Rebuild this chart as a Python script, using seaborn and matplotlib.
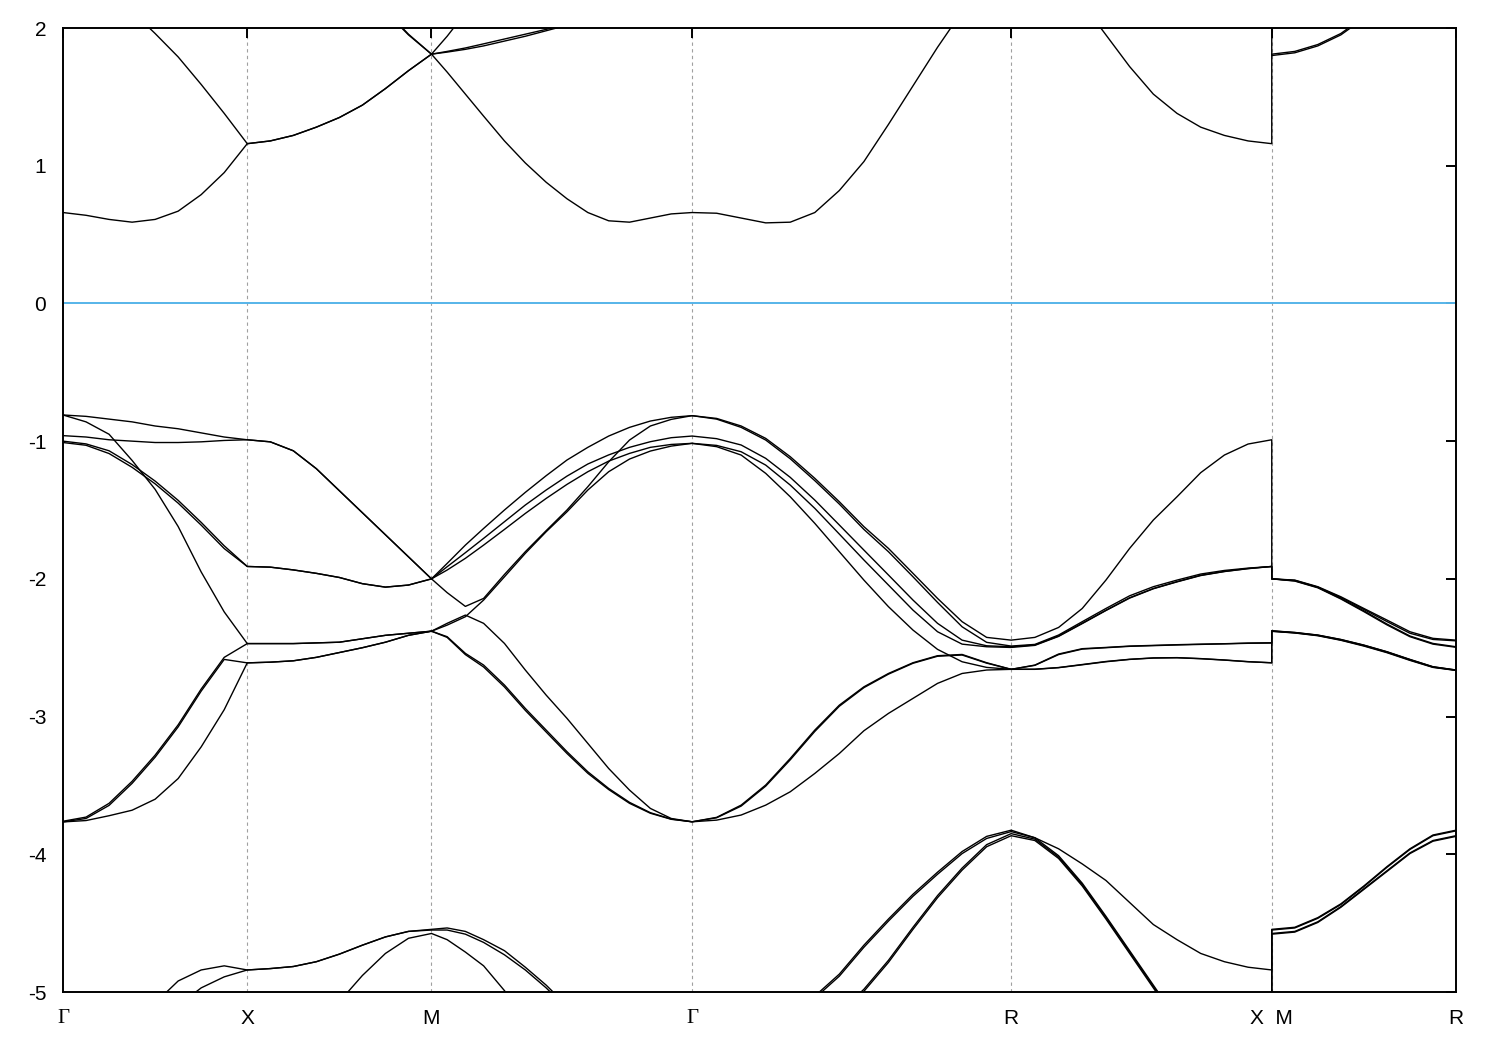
import matplotlib
matplotlib.use("Agg")
import matplotlib.pyplot as plt
import numpy as np
import pandas as pd
import seaborn as sns

nan = np.nan

# high-symmetry points along the path, in units of 2*pi/a
K_POINTS = [0.0, 0.5, 1.0, 1.7071, 2.5731, 3.2802, 3.7802]
K_LABELS = ["Γ", "X", "M", "Γ", "R", "X  M", "R"]
Y_TICKS = [2, 1, 0, -1, -2, -3, -4, -5]
Y_LABELS = ["2", "1", "0", "-1", "-2", "-3", "-4", "-5"]

BANDS = ["u1", "u2", "u3", "u4", "a", "b", "c", "d1", "d2",
         "e1", "e2", "f", "g1", "g2", "h", "i"]

# sampling positions inside each segment (fraction of the segment length)
T_GX = [0, 0.125, 0.25, 0.375, 0.5, 0.625, 0.75, 0.875, 1.0]
T_XM = [0, 0.125, 0.25, 0.375, 0.5, 0.625, 0.75, 0.875, 1.0]
T_MG = [0, 0.06, 0.13, 0.2, 0.28, 0.36, 0.44, 0.52, 0.6, 0.68, 0.76, 0.84, 0.92, 1.0]
T_GR = [0, 0.0769, 0.1538, 0.2308, 0.3077, 0.3846, 0.4615, 0.5385, 0.6154,
        0.6923, 0.7692, 0.8462, 0.9231, 1.0]
T_RX = [0, 0.0909, 0.1818, 0.2727, 0.3636, 0.4545, 0.5455, 0.6364, 0.7273,
        0.8182, 0.9091, 1.0]
T_MR = [0, 0.125, 0.25, 0.375, 0.5, 0.625, 0.75, 0.875, 1.0]

GAMMA_X = {
    "u1": [0.66, 0.64, 0.61, 0.59, 0.61, 0.67, 0.79, 0.95, 1.16],
    "u2": [2.65, 2.50, 2.32, 2.12, 1.96, 1.79, 1.59, 1.38, 1.16],
    "u3": [nan] * 9,
    "u4": [nan] * 9,
    "a": [-0.81, -0.82, -0.84, -0.86, -0.89, -0.91, -0.94, -0.97, -0.99],
    "b": [-0.81, -0.86, -0.95, -1.14, -1.35, -1.62, -1.95, -2.24, -2.47],
    "c": [-0.96, -0.97, -0.99, -1.00, -1.01, -1.01, -1.005, -0.995, -0.99],
    "d1": [-1.00, -1.02, -1.07, -1.17, -1.29, -1.43, -1.59, -1.76, -1.91],
    "d2": [-1.01, -1.03, -1.09, -1.19, -1.31, -1.45, -1.61, -1.78, -1.91],
    "e1": [-3.76, -3.73, -3.63, -3.47, -3.28, -3.06, -2.80, -2.57, -2.47],
    "e2": [-3.765, -3.74, -3.645, -3.485, -3.295, -3.075, -2.815, -2.585, -2.61],
    "f": [-3.765, -3.755, -3.72, -3.68, -3.60, -3.45, -3.22, -2.95, -2.61],
    "g1": [-5.9, -5.7, -5.45, -5.25, -5.08, -4.92, -4.84, -4.81, -4.84],
    "g2": [-6.2, -6.0, -5.75, -5.5, -5.28, -5.1, -4.97, -4.89, -4.84],
    "h": [nan] * 9,
    "i": [nan] * 9,
}

X_M = {
    "u1": [1.16, 1.18, 1.22, 1.28, 1.35, 1.44, 1.56, 1.69, 1.81],
    "u2": [1.16, 1.18, 1.22, 1.28, 1.35, 1.44, 1.56, 1.69, 1.81],
    "u3": [2.9, 2.85, 2.75, 2.6, 2.45, 2.3, 2.12, 1.95, 1.81],
    "u4": [3.0, 2.93, 2.82, 2.66, 2.5, 2.33, 2.13, 1.955, 1.81],
    "a": [-0.99, -1.005, -1.07, -1.20, -1.36, -1.52, -1.68, -1.84, -2.0],
    "b": [-2.47, -2.47, -2.47, -2.465, -2.46, -2.435, -2.41, -2.395, -2.38],
    "c": [-0.99, -1.005, -1.07, -1.20, -1.36, -1.52, -1.68, -1.84, -2.0],
    "d1": [-1.91, -1.915, -1.935, -1.96, -1.99, -2.035, -2.06, -2.045, -2.0],
    "d2": [-1.91, -1.915, -1.935, -1.96, -1.99, -2.035, -2.06, -2.045, -2.0],
    "e1": [-2.47, -2.47, -2.47, -2.465, -2.46, -2.435, -2.41, -2.395, -2.38],
    "e2": [-2.61, -2.605, -2.595, -2.57, -2.535, -2.50, -2.46, -2.41, -2.38],
    "f": [-2.61, -2.605, -2.595, -2.57, -2.535, -2.50, -2.46, -2.41, -2.38],
    "g1": [-4.84, -4.83, -4.815, -4.78, -4.725, -4.66, -4.60, -4.56, -4.545],
    "g2": [-4.84, -4.83, -4.815, -4.78, -4.725, -4.66, -4.60, -4.56, -4.55],
    "h": [-5.9, -5.7, -5.45, -5.25, -5.07, -4.88, -4.72, -4.61, -4.575],
    "i": [nan] * 9,
}

M_GAMMA = {
    "u1": [1.81, 1.68, 1.52, 1.36, 1.18, 1.02, 0.88, 0.76, 0.66, 0.60, 0.59, 0.62, 0.65, 0.66],
    "u2": [1.81, 1.94, 2.11, 2.28] + [nan] * 10,
    "u3": [1.81, 1.83, 1.855, 1.885, 1.92, 1.955, 1.99, 2.03, 2.08] + [nan] * 5,
    "u4": [1.81, 1.825, 1.845, 1.87, 1.905, 1.94, 1.98, 2.02, 2.07] + [nan] * 5,
    "a": [-2.0, -2.10, -2.20, -2.142, -1.968, -1.803, -1.65, -1.50, -1.331, -1.15,
          -0.992, -0.89, -0.842, -0.815],
    "b": [-2.38, -2.336, -2.275, -2.154, -1.985, -1.815, -1.658, -1.513, -1.355, -1.222,
          -1.13, -1.072, -1.036, -1.016],
    "c": [-2.0, -1.888, -1.755, -1.634, -1.50, -1.372, -1.251, -1.137, -1.045, -0.963,
          -0.90, -0.854, -0.827, -0.815],
    "d1": [-2.0, -1.912, -1.81, -1.706, -1.585, -1.464, -1.355, -1.254, -1.166, -1.10,
           -1.045, -1.004, -0.975, -0.963],
    "d2": [-2.0, -1.936, -1.851, -1.755, -1.641, -1.525, -1.416, -1.314, -1.222, -1.145,
           -1.089, -1.045, -1.024, -1.016],
    "e1": [-2.38, -2.323, -2.263, -2.323, -2.469, -2.662, -2.844, -3.013, -3.195, -3.377,
           -3.534, -3.667, -3.74, -3.764],
    "e2": [-2.38, -2.42, -2.541, -2.626, -2.771, -2.941, -3.098, -3.255, -3.401, -3.522,
           -3.623, -3.698, -3.744, -3.764],
    "f": [-2.38, -2.425, -2.55, -2.64, -2.785, -2.955, -3.112, -3.268, -3.412, -3.53,
          -3.63, -3.702, -3.746, -3.764],
    "g1": [-4.545, -4.535, -4.56, -4.62, -4.70, -4.82, -4.95, -5.1, -5.3] + [nan] * 5,
    "g2": [-4.55, -4.55, -4.58, -4.64, -4.73, -4.84, -4.97, -5.12, -5.3] + [nan] * 5,
    "h": [-4.575, -4.62, -4.71, -4.81, -4.99, -5.2] + [nan] * 8,
    "i": [nan] * 14,
}

GAMMA_R = {
    "u1": [0.66, 0.655, 0.62, 0.585, 0.59, 0.66, 0.82, 1.03, 1.30, 1.58, 1.86, 2.12, 2.45, 2.8],
    "u2": [nan] * 14,
    "u3": [nan] * 14,
    "u4": [nan] * 14,
    "a": [-0.815, -0.84, -0.90, -0.992, -1.128, -1.287, -1.457, -1.641, -1.803, -1.985,
          -2.171, -2.348, -2.461, -2.488],
    "b": [-1.016, -1.04, -1.101, -1.234, -1.404, -1.597, -1.803, -2.009, -2.202, -2.372,
          -2.512, -2.602, -2.643, -2.657],
    "c": [-0.815, -0.835, -0.89, -0.98, -1.113, -1.27, -1.44, -1.621, -1.779, -1.96,
          -2.142, -2.311, -2.425, -2.445],
    "d1": [-0.963, -0.982, -1.028, -1.125, -1.263, -1.428, -1.609, -1.791, -1.972, -2.154,
           -2.323, -2.445, -2.486, -2.493],
    "d2": [-1.016, -1.031, -1.077, -1.174, -1.319, -1.488, -1.675, -1.863, -2.045, -2.227,
           -2.384, -2.474, -2.493, -2.498],
    "e1": [-3.764, -3.752, -3.715, -3.643, -3.546, -3.413, -3.268, -3.103, -2.977, -2.868,
           -2.759, -2.687, -2.662, -2.657],
    "e2": [-3.764, -3.732, -3.643, -3.497, -3.304, -3.098, -2.917, -2.784, -2.687, -2.609,
           -2.558, -2.549, -2.609, -2.657],
    "f": [-3.764, -3.735, -3.65, -3.505, -3.314, -3.108, -2.925, -2.79, -2.692, -2.613,
          -2.562, -2.553, -2.612, -2.657],
    "g1": [nan, nan, nan, -5.45, -5.23, -5.03, -4.87, -4.66, -4.47, -4.29, -4.13, -3.98,
           -3.87, -3.825],
    "g2": [nan, nan, nan, -5.46, -5.245, -5.045, -4.885, -4.675, -4.485, -4.305, -4.145,
           -3.995, -3.885, -3.835],
    "h": [nan] * 5 + [-5.32, -5.15, -4.98, -4.77, -4.53, -4.30, -4.10, -3.93, -3.85],
    "i": [nan] * 5 + [-5.34, -5.165, -4.995, -4.785, -4.545, -4.315, -4.115, -3.945, -3.865],
}

R_X = {
    "u1": [2.8, 2.65, 2.42, 2.18, 1.95, 1.72, 1.52, 1.38, 1.28, 1.22, 1.18, 1.16],
    "u2": [nan] * 11 + [2.9],
    "u3": [nan] * 12,
    "u4": [nan] * 12,
    "a": [-2.488, -2.476, -2.408, -2.311, -2.215, -2.123, -2.057, -2.009, -1.965, -1.939,
          -1.922, -1.91],
    "b": [-2.657, -2.626, -2.546, -2.507, -2.498, -2.488, -2.483, -2.478, -2.474, -2.471,
          -2.466, -2.464],
    "c": [-2.445, -2.425, -2.353, -2.215, -2.009, -1.779, -1.573, -1.404, -1.229, -1.101,
          -1.021, -0.99],
    "d1": [-2.493, -2.48, -2.415, -2.322, -2.228, -2.137, -2.07, -2.02, -1.974, -1.946,
           -1.925, -1.91],
    "d2": [-2.498, -2.483, -2.418, -2.325, -2.23, -2.14, -2.072, -2.022, -1.976, -1.947,
           -1.926, -1.91],
    "e1": [-2.657, -2.657, -2.645, -2.624, -2.602, -2.585, -2.575, -2.573, -2.58, -2.59,
           -2.602, -2.609],
    "e2": [-2.657, -2.628, -2.55, -2.51, -2.50, -2.49, -2.485, -2.48, -2.476, -2.472,
           -2.468, -2.466],
    "f": [-2.657, -2.656, -2.644, -2.622, -2.6, -2.584, -2.574, -2.572, -2.579, -2.589,
          -2.601, -2.61],
    "g1": [-3.825, -3.88, -3.96, -4.07, -4.19, -4.35, -4.51, -4.62, -4.72, -4.78, -4.82, -4.84],
    "g2": [-3.835, -3.88, -4.01, -4.21, -4.45, -4.70, -4.95, -5.2, nan, nan, nan, -5.9],
    "h": [-3.85, -3.89, -4.02, -4.22, -4.46, -4.71, -4.96, -5.21, nan, nan, nan, -5.9],
    "i": [-3.865, -3.90, -4.03, -4.23, -4.47, -4.72, -4.97, -5.22, nan, nan, nan, -5.9],
}

M_R = {
    "u1": [1.81, 1.83, 1.88, 1.96, 2.08, 2.2, nan, nan, nan],
    "u2": [1.80, 1.82, 1.87, 1.95, 2.07, 2.19, nan, nan, nan],
    "u3": [nan] * 9,
    "u4": [nan] * 9,
    "a": [-2.0, -2.011, -2.06, -2.135, -2.222, -2.31, -2.395, -2.44, -2.45],
    "b": [-2.377, -2.389, -2.408, -2.44, -2.481, -2.529, -2.585, -2.638, -2.662],
    "c": [-2.0, -2.009, -2.057, -2.13, -2.215, -2.299, -2.384, -2.432, -2.445],
    "d1": [-2.0, -2.014, -2.062, -2.142, -2.232, -2.328, -2.415, -2.469, -2.493],
    "d2": [-2.0, -2.016, -2.065, -2.146, -2.238, -2.334, -2.42, -2.474, -2.497],
    "e1": [-2.38, -2.392, -2.411, -2.444, -2.485, -2.533, -2.589, -2.641, -2.664],
    "e2": [-2.378, -2.39, -2.409, -2.441, -2.482, -2.53, -2.586, -2.639, -2.662],
    "f": [-2.381, -2.393, -2.413, -2.446, -2.488, -2.536, -2.592, -2.643, -2.665],
    "g1": [-4.545, -4.53, -4.46, -4.36, -4.23, -4.09, -3.96, -3.86, -3.825],
    "g2": [-4.55, -4.535, -4.465, -4.365, -4.235, -4.095, -3.965, -3.865, -3.83],
    "h": [-4.575, -4.56, -4.49, -4.38, -4.25, -4.12, -3.99, -3.90, -3.865],
    "i": [-4.58, -4.565, -4.495, -4.385, -4.255, -4.125, -3.995, -3.905, -3.87],
}

# (start point index, end point index, sample fractions, energies)
SEGMENTS = [
    (0, 1, T_GX, GAMMA_X),
    (1, 2, T_XM, X_M),
    (2, 3, T_MG, M_GAMMA),
    (3, 4, T_GR, GAMMA_R),
    (4, 5, T_RX, R_X),
    (5, 6, T_MR, M_R),
]


def build_frame():
    rows = []
    for band in BANDS:
        for start, end, fracs, values in SEGMENTS:
            k0, k1 = K_POINTS[start], K_POINTS[end]
            for t, e in zip(fracs, values[band]):
                rows.append({"k": k0 + t * (k1 - k0), "E": e, "band": band})
    return pd.DataFrame(rows)


sns.set_style("white")
plt.rcParams["font.family"] = ["Liberation Sans", "DejaVu Sans"]

df = build_frame()

fig, ax = plt.subplots(figsize=(15, 10.5), dpi=100)
ax.set_position([63 / 1500, 1 - 992 / 1050, 1393 / 1500, 964 / 1050])

for k in K_POINTS[1:-1]:
    ax.axvline(k, color="#a0a0a0", linewidth=0.8, linestyle=(0, (3, 3)), zorder=0)
ax.axhline(0, color="#56b4e9", linewidth=1.4, zorder=1)

sns.lineplot(data=df, x="k", y="E", units="band", estimator=None, sort=False,
             color="black", linewidth=1.0, legend=False, ax=ax)

ax.set_xlim(K_POINTS[0], K_POINTS[-1])
ax.set_ylim(-5, 2)
ax.set_xticks(K_POINTS)
ax.set_xticklabels(K_LABELS)
ax.set_yticks(Y_TICKS)
ax.set_yticklabels(Y_LABELS)
ax.set_xlabel("")
ax.set_ylabel("")
ax.tick_params(direction="in", length=7, width=1.4, top=True, right=True,
               labelsize=15, pad=12, colors="black")
for label in ax.get_xticklabels():
    if label.get_text() == "Γ":
        label.set_fontfamily(["Liberation Serif", "DejaVu Serif"])
for spine in ax.spines.values():
    spine.set_linewidth(1.4)
    spine.set_color("black")

fig.savefig("out.png", dpi=100)
plt.close(fig)
